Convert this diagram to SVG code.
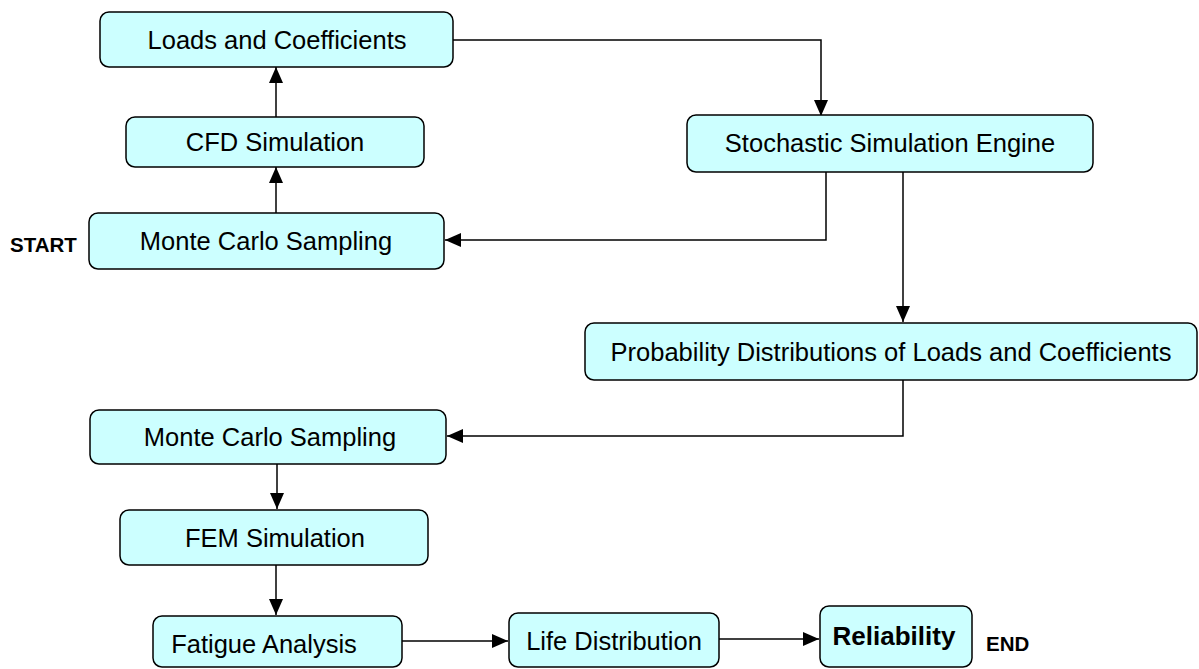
<svg xmlns="http://www.w3.org/2000/svg" width="1199" height="669" viewBox="0 0 1199 669">
<style>
.box{fill:#CCFFFF;stroke:#000;stroke-width:1.5}
.t{font-family:"Liberation Sans",Arial,sans-serif;font-size:25.5px;fill:#000;text-anchor:middle;dominant-baseline:central}
.b{font-weight:bold;font-size:26px}
.lbl{font-family:"Liberation Sans",Arial,sans-serif;font-size:20.5px;font-weight:bold;fill:#000}
.c{fill:none;stroke:#000;stroke-width:1.5;marker-end:url(#ah)}
</style>
<defs>
<marker id="ah" markerUnits="userSpaceOnUse" markerWidth="16" markerHeight="14" viewBox="0 0 16 14" refX="16" refY="7" orient="auto">
<path d="M0,0 L16,7 L0,14 Z" fill="#000"/>
</marker>
</defs>
<rect width="1199" height="669" fill="#fff"/>
<g id="connectors">
<path class="c" d="M453,40 H821 V116"/>
<path class="c" d="M276,117 V67"/>
<path class="c" d="M276,213 V167"/>
<path class="c" d="M826,172 V240 H445"/>
<path class="c" d="M903,172 V322"/>
<path class="c" d="M903,380 V436 H447"/>
<path class="c" d="M277,464 V509"/>
<path class="c" d="M276,565 V615"/>
<path class="c" d="M402,641 H508"/>
<path class="c" d="M719,639 H819"/>
</g>
<g id="loads"><rect class="box" x="100" y="12" width="353" height="55" rx="9"/><text class="t" x="277" y="40">Loads and Coefficients</text></g>
<g id="cfd"><rect class="box" x="126" y="117" width="298" height="50" rx="9"/><text class="t" x="275" y="142">CFD Simulation</text></g>
<g id="mc1"><rect class="box" x="89" y="213" width="355" height="56" rx="9"/><text class="t" x="266" y="241">Monte Carlo Sampling</text></g>
<g id="start"><text class="lbl" x="10" y="252">START</text></g>
<g id="sse"><rect class="box" x="687" y="115" width="406" height="57" rx="9"/><text class="t" x="890" y="143">Stochastic Simulation Engine</text></g>
<g id="pd"><rect class="box" x="585" y="323" width="612" height="57" rx="9"/><text class="t" x="891" y="352">Probability Distributions of Loads and Coefficients</text></g>
<g id="mc2"><rect class="box" x="90" y="410" width="356" height="54" rx="9"/><text class="t" x="270" y="437">Monte Carlo Sampling</text></g>
<g id="fem"><rect class="box" x="120" y="510" width="308" height="55" rx="9"/><text class="t" x="275" y="538">FEM Simulation</text></g>
<g id="fatigue"><rect class="box" x="153" y="616" width="249" height="51" rx="9"/><text class="t" x="264" y="644">Fatigue Analysis</text></g>
<g id="life"><rect class="box" x="509" y="613" width="210" height="54" rx="9"/><text class="t" x="614" y="641">Life Distribution</text></g>
<g id="rel"><rect class="box" x="820" y="606" width="152" height="61" rx="9"/><text class="t b" x="894" y="636">Reliability</text></g>
<g id="end"><text class="lbl" x="986" y="651">END</text></g>
</svg>
